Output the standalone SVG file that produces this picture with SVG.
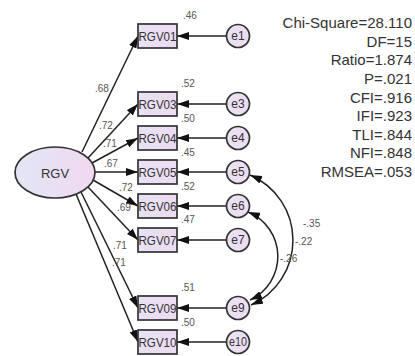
<svg xmlns="http://www.w3.org/2000/svg" width="415" height="356" viewBox="0 0 415 356">
<defs>
<linearGradient id="gBox" x1="0" y1="0" x2="1" y2="0">
<stop offset="0" stop-color="#e6e2f4"/><stop offset="1" stop-color="#eedbf1"/>
</linearGradient>
<linearGradient id="gEll" x1="0" y1="0" x2="1" y2="0">
<stop offset="0" stop-color="#e2e6f6"/><stop offset="1" stop-color="#f1d9f1"/>
</linearGradient>
<linearGradient id="gCir" x1="0" y1="0" x2="1" y2="0">
<stop offset="0" stop-color="#e8e2f4"/><stop offset="1" stop-color="#efdcf2"/>
</linearGradient>
<marker id="ah" markerUnits="userSpaceOnUse" markerWidth="12" markerHeight="8" refX="12" refY="4" orient="auto-start-reverse">
<path d="M0,0 L12,4 L0,8 z" fill="#111"/>
</marker>
</defs>
<style>
.box{fill:url(#gBox);stroke:#333;stroke-width:1.7}
.ell{fill:url(#gEll);stroke:#333;stroke-width:1.7}
.cir{fill:url(#gCir);stroke:#333;stroke-width:1.7}
.lbl{font-family:"Liberation Sans",Arial,sans-serif;font-size:13px;fill:#333;text-anchor:middle}
.el{font-family:"Liberation Sans",Arial,sans-serif;font-size:12px;fill:#333;text-anchor:middle}
.num{font-family:"Liberation Sans",Arial,sans-serif;font-size:10px;fill:#555}
.fit{font-family:"Liberation Sans",Arial,sans-serif;font-size:15px;fill:#333;text-anchor:end}
.ln{stroke:#222;stroke-width:1.5;fill:none;marker-end:url(#ah)}
.cov{stroke:#222;stroke-width:1.5;fill:none;marker-start:url(#ah);marker-end:url(#ah)}
</style>
<rect width="415" height="356" fill="#fff"/>

<g id="connectors">
<line class="ln" x1="82" y1="152" x2="138" y2="36"/>
<line class="ln" x1="88" y1="158" x2="138" y2="104"/>
<line class="ln" x1="92" y1="163" x2="138" y2="138"/>
<line class="ln" x1="95" y1="172" x2="138" y2="172"/>
<line class="ln" x1="93" y1="180" x2="138" y2="206"/>
<line class="ln" x1="88" y1="187" x2="138" y2="240"/>
<line class="ln" x1="81" y1="192" x2="138" y2="308"/>
<line class="ln" x1="76" y1="194" x2="138" y2="342"/>
<line class="ln" x1="226" y1="36" x2="177" y2="36"/>
<line class="ln" x1="226" y1="104" x2="177" y2="104"/>
<line class="ln" x1="226" y1="138" x2="177" y2="138"/>
<line class="ln" x1="226" y1="172" x2="177" y2="172"/>
<line class="ln" x1="226" y1="206" x2="177" y2="206"/>
<line class="ln" x1="226" y1="240" x2="177" y2="240"/>
<line class="ln" x1="226" y1="308" x2="177" y2="308"/>
<line class="ln" x1="226" y1="342" x2="177" y2="342"/>
<path class="cov" d="M250,175 A71,71 0 0 1 251,305"/>
<path class="cov" d="M248,212 A48,48 0 0 1 250,300"/>
<text class="num" x="95" y="92">.68</text>
<text class="num" x="99" y="129">.72</text>
<text class="num" x="103" y="147">.71</text>
<text class="num" x="104" y="167">.67</text>
<text class="num" x="119" y="191">.72</text>
<text class="num" x="117" y="211">.69</text>
<text class="num" x="113" y="249">.71</text>
<text class="num" x="112" y="266">.71</text>
<text class="num" x="303" y="227">-.35</text>
<text class="num" x="295" y="245">-.22</text>
<text class="num" x="280" y="262">-.26</text>
</g>

<g id="RGV">
<ellipse class="ell" cx="55" cy="172.5" rx="40" ry="25.5"/>
<text class="lbl" x="55" y="177.5">RGV</text>
</g>

<g id="RGV01"><rect class="box" x="138" y="24" width="39" height="24"/><text class="lbl" x="157.5" y="40.5" textLength="38" lengthAdjust="spacingAndGlyphs">RGV01</text><text class="num" x="183" y="19">.46</text></g>
<g id="RGV03"><rect class="box" x="138" y="92" width="39" height="24"/><text class="lbl" x="157.5" y="108.5" textLength="38" lengthAdjust="spacingAndGlyphs">RGV03</text><text class="num" x="181" y="87">.52</text></g>
<g id="RGV04"><rect class="box" x="138" y="126" width="39" height="24"/><text class="lbl" x="157.5" y="142.5" textLength="38" lengthAdjust="spacingAndGlyphs">RGV04</text><text class="num" x="181" y="122">.50</text></g>
<g id="RGV05"><rect class="box" x="138" y="160" width="39" height="24"/><text class="lbl" x="157.5" y="176.5" textLength="38" lengthAdjust="spacingAndGlyphs">RGV05</text><text class="num" x="181" y="156">.45</text></g>
<g id="RGV06"><rect class="box" x="138" y="194" width="39" height="24"/><text class="lbl" x="157.5" y="210.5" textLength="38" lengthAdjust="spacingAndGlyphs">RGV06</text><text class="num" x="181" y="190">.52</text></g>
<g id="RGV07"><rect class="box" x="138" y="228" width="39" height="24"/><text class="lbl" x="157.5" y="244.5" textLength="38" lengthAdjust="spacingAndGlyphs">RGV07</text><text class="num" x="181" y="223">.47</text></g>
<g id="RGV09"><rect class="box" x="138" y="296" width="39" height="24"/><text class="lbl" x="157.5" y="312.5" textLength="38" lengthAdjust="spacingAndGlyphs">RGV09</text><text class="num" x="181" y="291">.51</text></g>
<g id="RGV10"><rect class="box" x="138" y="330" width="39" height="24"/><text class="lbl" x="157.5" y="346.5" textLength="38" lengthAdjust="spacingAndGlyphs">RGV10</text><text class="num" x="181" y="326">.50</text></g>

<g id="e1"><circle class="cir" cx="238" cy="36" r="11.5"/><text class="el" x="238" y="40">e1</text></g>
<g id="e3"><circle class="cir" cx="238" cy="104" r="11.5"/><text class="el" x="238" y="108">e3</text></g>
<g id="e4"><circle class="cir" cx="238" cy="138" r="11.5"/><text class="el" x="238" y="142">e4</text></g>
<g id="e5"><circle class="cir" cx="238" cy="172" r="11.5"/><text class="el" x="238" y="176">e5</text></g>
<g id="e6"><circle class="cir" cx="238" cy="206" r="11.5"/><text class="el" x="238" y="210">e6</text></g>
<g id="e7"><circle class="cir" cx="238" cy="240" r="11.5"/><text class="el" x="238" y="244">e7</text></g>
<g id="e9"><circle class="cir" cx="238" cy="308" r="11.5"/><text class="el" x="238" y="312">e9</text></g>
<g id="e10"><circle class="cir" cx="238" cy="342" r="11.5"/><text class="el" x="238" y="346" textLength="18" lengthAdjust="spacingAndGlyphs">e10</text></g>

<g id="fit">
<text class="fit" x="412" y="28">Chi-Square=28.110</text>
<text class="fit" x="412" y="46.6">DF=15</text>
<text class="fit" x="412" y="65.3">Ratio=1.874</text>
<text class="fit" x="412" y="83.9">P=.021</text>
<text class="fit" x="412" y="102.5">CFI=.916</text>
<text class="fit" x="412" y="121.1">IFI=.923</text>
<text class="fit" x="412" y="139.8">TLI=.844</text>
<text class="fit" x="412" y="158.4">NFI=.848</text>
<text class="fit" x="412" y="177">RMSEA=.053</text>
</g>
</svg>
